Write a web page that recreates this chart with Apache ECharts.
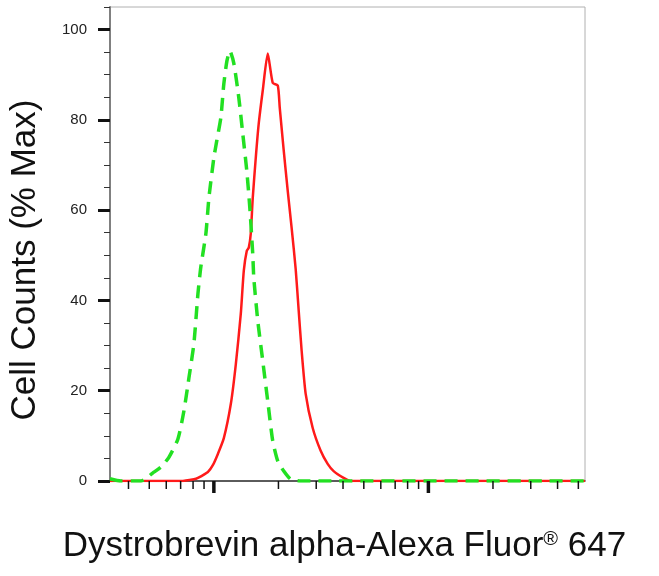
<!DOCTYPE html>
<html>
<head>
<meta charset="utf-8">
<script src="https://cdn.jsdelivr.net/npm/echarts@6/dist/echarts.min.js"></script>
<style>
html,body{margin:0;padding:0;background:#fff;}
#chart{width:659px;height:576px;}
</style>
</head>
<body>
<div id="chart"></div>
<script>
// Isotype control (green dashed)
const greenX = [32.8, 36.9, 45.8, 52.0, 56.7, 61.8, 68.0, 72.5, 76.5, 80.7, 84.3, 87.0, 91.8, 94.8, 100, 103.2, 107.8, 111.3, 115.0, 118.7, 123.9, 130.7, 136.4, 142.4, 147.1, 151.8, 153.5, 160.2, 169.0, 178.3, 188.1, 198.6, 211.7, 228.1, 253.9, 5370];
const greenY = [0.5, 0, 0, 1.8, 3.1, 5.3, 9.3, 15.5, 22.8, 30.4, 41.5, 47.5, 54.8, 62.7, 71.6, 75.4, 80.5, 88.0, 93.0, 95.3, 92.5, 84.9, 76.9, 68.7, 60.5, 50.3, 45.0, 35.5, 26.6, 17.7, 8.9, 4.4, 2.2, 0.4, 0, 0];
// Dystrobrevin alpha stained (red solid)
const redX = [32.8, 70.2, 80.7, 84.3, 93.8, 98.9, 104.4, 111.3, 120.0, 126.6, 133.5, 137.9, 142.4, 145.5, 148.6, 151.8, 156.8, 161.9, 169.0, 178.3, 188.1, 198.6, 202.8, 211.7, 220.9, 230.6, 240.6, 248.6, 256.6, 267.9, 288.7, 314.7, 339.2, 361.6, 402.5, 433.7, 5370];
const redY = [0, 0, 0.4, 0.7, 2.0, 3.5, 6.0, 9.5, 17.1, 25.9, 37.0, 46.6, 51.0, 51.7, 54.8, 62.7, 71.6, 79.2, 86.5, 94.7, 88.2, 87.6, 82.7, 73.2, 64.3, 55.9, 47.0, 37.7, 28.8, 19.3, 11.8, 6.7, 3.8, 2.2, 0.7, 0, 0];
// x-axis tick marks (log decades, no labels)
const xMinorTicks = [40, 50, 60, 70, 80, 90, 200, 300, 400, 500, 600, 700, 800, 900, 2000, 3000, 4000, 5000];
const xMajorTicks = [100, 1000];
const yLabelTicks = [0, 20, 40, 60, 80, 100];

const xMin = 32.8, xMax = 5370;
const yMin = 0, yMax = 105;

const pairs = (xs, ys) => xs.map((x, i) => [x, ys[i]]);
const tickData = xMinorTicks.map(v => [v, 0, 0]).concat(xMajorTicks.map(v => [v, 0, 1]));

const chart = echarts.init(document.getElementById('chart'), null, {renderer: 'canvas'});
const FONT = '"Liberation Sans", Arial, Helvetica, sans-serif';

chart.setOption({
  animation: false,
  backgroundColor: '#ffffff',
  grid: {
    left: 109, right: 74, top: 7, bottom: 95,
    show: true, borderColor: '#b0b0b0', borderWidth: 1, backgroundColor: 'transparent'
  },
  xAxis: {
    type: 'log', logBase: 10, min: xMin, max: xMax,
    axisLine: {show: true, lineStyle: {color: '#333', width: 1.5}},
    axisTick: {show: false},
    axisLabel: {show: false},
    splitLine: {show: false},
    name: 'Dystrobrevin alpha-Alexa Fluor{sup|®} 647',
    nameLocation: 'middle',
    nameGap: 48,
    nameTextStyle: {
      fontFamily: FONT, fontSize: 35, color: '#111', padding: [0, 6, 0, 0],
      rich: {sup: {fontFamily: FONT, fontSize: 20, color: '#111', verticalAlign: 'top', lineHeight: 22, padding: [0, 0, 14, 0]}}
    }
  },
  yAxis: [{
    type: 'value', min: yMin, max: yMax, interval: 5,
    axisLine: {show: true, lineStyle: {color: '#808080', width: 2}},
    axisTick: {show: true, length: 6, lineStyle: {color: '#333', width: 1}},
    axisLabel: {
      show: true, margin: 23, fontFamily: FONT, fontSize: 15, color: '#222',
      formatter: v => (yLabelTicks.indexOf(v) >= 0 ? String(v) : '')
    },
    splitLine: {show: false},
    name: 'Cell Counts (% Max)',
    nameLocation: 'middle',
    nameGap: 67,
    nameTextStyle: {fontFamily: FONT, fontSize: 35, color: '#111', padding: [0, 32, 0, 0]}
  }, {
    type: 'value', min: yMin, max: yMax, position: 'left', offset: 0,
    axisLine: {show: false},
    axisTick: {show: true, length: 12, customValues: yLabelTicks, lineStyle: {color: '#111', width: 3}},
    axisLabel: {show: false},
    splitLine: {show: false}
  }],
  series: [{
    name: 'stained', type: 'line', data: pairs(redX, redY),
    showSymbol: false, smooth: 0.2, z: 3,
    lineStyle: {color: '#ff1a1a', width: 2.5}
  }, {
    name: 'control', type: 'line', data: pairs(greenX, greenY),
    showSymbol: false, smooth: 0.2, z: 4,
    lineStyle: {color: '#22e022', width: 3.5, type: [13, 8]}
  }, {
    name: 'xticks', type: 'custom', data: tickData, z: 5, silent: true,
    encode: {x: 0, y: 1},
    renderItem: function (params, api) {
      const p = api.coord([api.value(0), yMin]);
      const major = api.value(2) === 1;
      return {
        type: 'line',
        shape: {x1: p[0], y1: p[1], x2: p[0], y2: p[1] + (major ? 12 : 8)},
        style: {stroke: '#111', lineWidth: major ? 3.5 : 1.5}
      };
    }
  }]
});
</script>
</body>
</html>
